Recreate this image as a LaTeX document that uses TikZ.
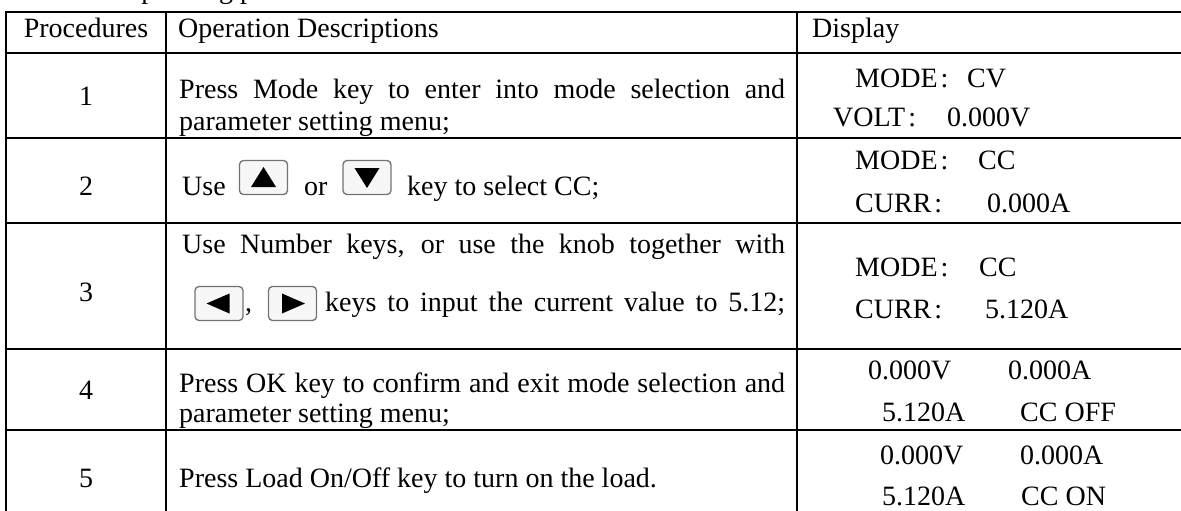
\documentclass[tikz,border=0pt]{standalone}
\usepackage{fontspec}
\setmainfont{Liberation Serif}
\newcommand{\fc}{\kern3pt:}
\begin{document}
\begin{tikzpicture}[x=1pt,y=-1pt,
  txt/.style={anchor=base west,inner sep=0pt,font=\fontsize{28}{34}\selectfont},
  ctxt/.style={anchor=base,inner sep=0pt,font=\fontsize{28}{34}\selectfont},
  keybox/.style={draw=black!55,fill=black!3,line width=1.3pt,rounded corners=4pt,minimum width=48pt,minimum height=34pt,inner sep=0pt},
  rule/.style={line width=1.7pt}]
\useasboundingbox (0,0) rectangle (1181,511);
\clip (0,0) rectangle (1181,511);
% clipped caption above the table
\node[txt] (cap) at (121,-1) {Operating procedures};
% table rules
\foreach \yy in {12,53,138,223,349,430}{\draw[rule] (5.15,\yy) -- (1190,\yy);}
\foreach \xx in {6,166,797}{\draw[rule] (\xx,12) -- (\xx,520);}
% header
\node[ctxt] (h1) at (86,38) {Procedures};
\node[txt] (h2) at (178,38) {Operation Descriptions};
\node[txt] (h3) at (812,38) {Display};
% row 1
\node[ctxt] (n1) at (86,106) {1};
\node[txt] (d1a) at (179,99) {\makebox[606pt][s]{Press Mode key to enter into mode selection and}};
\node[txt] (d1b) at (179,130) {parameter setting menu;};
\node[txt] (m1a) at (855,88) {MODE\fc};
\node[txt] (v1a) at (967,88) {CV};
\node[txt] (m1b) at (833,126) {VOLT\fc};
\node[txt] (v1b) at (947,126) {0.000V};
% row 2
\node[ctxt] (n2) at (86,195) {2};
\node[txt] (d2a) at (182,195) {Use};
\node[keybox] (ku) at (263.5,177.5) {};
\fill ([shift={(0,-10.5)}]ku.center) -- ([shift={(12.5,9.5)}]ku.center) -- ([shift={(-12.5,9.5)}]ku.center) -- cycle;
\node[txt] (d2b) at (304,195) {or};
\node[keybox] (kd) at (367,177.5) {};
\fill ([shift={(0,10.5)}]kd.center) -- ([shift={(12.5,-9.5)}]kd.center) -- ([shift={(-12.5,-9.5)}]kd.center) -- cycle;
\node[txt] (d2c) at (407,195) {key to select CC;};
\node[txt] (m2a) at (855,169) {MODE\fc};
\node[txt] (v2a) at (978,169) {CC};
\node[txt] (m2b) at (855,212) {CURR\fc};
\node[txt] (v2b) at (987,212) {0.000A};
% row 3
\node[ctxt] (n3) at (86,301) {3};
\node[txt] (d3a) at (182,253) {\makebox[603pt][s]{Use Number keys, or use the knob together with}};
\node[keybox] (kl) at (219,303.5) {};
\fill ([shift={(-12.5,0)}]kl.center) -- ([shift={(10.5,-10)}]kl.center) -- ([shift={(10.5,10)}]kl.center) -- cycle;
\node[txt] (d3b) at (245,311) {,};
\node[keybox] (kr) at (292.5,303.5) {};
\fill ([shift={(12.5,0)}]kr.center) -- ([shift={(-10.5,-10)}]kr.center) -- ([shift={(-10.5,10)}]kr.center) -- cycle;
\node[txt] (d3c) at (325,311) {\makebox[460pt][s]{keys to input the current value to 5.12;}};
\node[txt] (m3a) at (855,276) {MODE\fc};
\node[txt] (v3a) at (979,276) {CC};
\node[txt] (m3b) at (855,318) {CURR\fc};
\node[txt] (v3b) at (985,318) {5.120A};
% row 4
\node[ctxt] (n4) at (86,399) {4};
\node[txt] (d4a) at (179,392) {\makebox[606pt][s]{Press OK key to confirm and exit mode selection and}};
\node[txt] (d4b) at (179,422) {parameter setting menu;};
\node[txt] (p4a) at (868,379) {0.000V};
\node[txt] (q4a) at (1008,379) {0.000A};
\node[txt] (p4b) at (882,421) {5.120A};
\node[txt] (q4b) at (1020,421) {CC OFF};
% row 5
\node[ctxt] (n5) at (86,487) {5};
\node[txt] (d5) at (179,487) {Press Load On/Off key to turn on the load.};
\node[txt] (p5a) at (880,464) {0.000V};
\node[txt] (q5a) at (1020,464) {0.000A};
\node[txt] (p5b) at (882,505) {5.120A};
\node[txt] (q5b) at (1021,505) {CC ON};
\end{tikzpicture}
\end{document}
